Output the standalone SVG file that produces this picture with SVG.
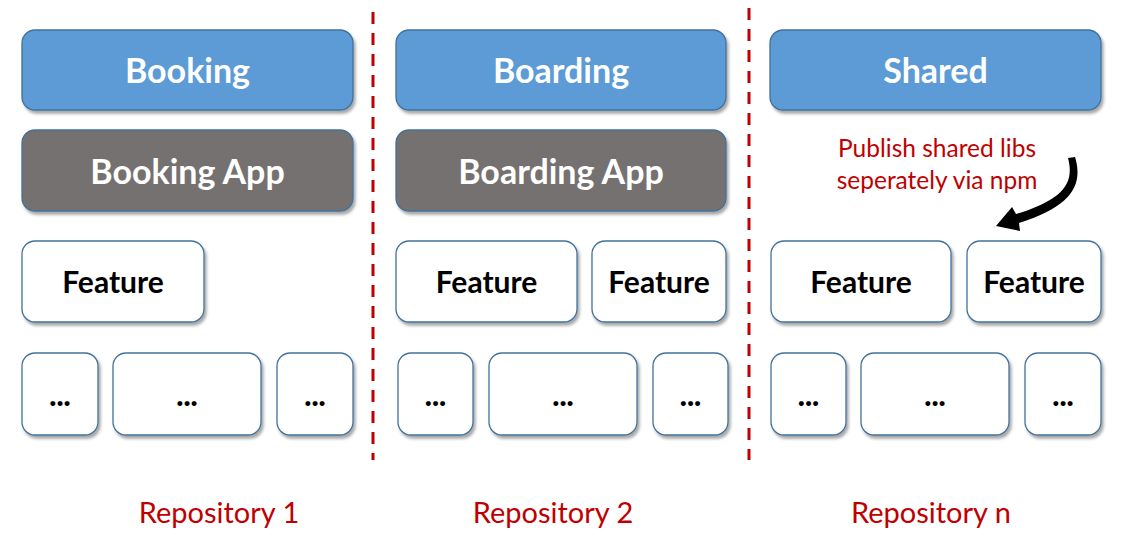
<svg xmlns="http://www.w3.org/2000/svg" width="1125" height="547" viewBox="0 0 1125 547">
<defs>
<filter id="sh" x="-10%" y="-10%" width="125%" height="130%">
<feDropShadow dx="2" dy="3" stdDeviation="1.5" flood-color="#000" flood-opacity="0.35"/>
</filter>
<style>
.blue{fill:#5B9BD5;stroke:#41719C;stroke-width:1.3;filter:url(#sh)}
.gray{fill:#767171;stroke:#41719C;stroke-width:1.3;filter:url(#sh)}
.white{fill:#fff;stroke:#41719C;stroke-width:1.3;filter:url(#sh)}
.t{font-family:Lato,"Open Sans","Liberation Sans",sans-serif;font-weight:bold;text-anchor:middle}
.tw{fill:#fff;font-size:34px}
.tb{fill:#000;font-size:30px}
.dots{fill:#000;font-size:30px;font-weight:900}
.red{font-family:Lato,"Open Sans","Liberation Sans",sans-serif;fill:#C00000;text-anchor:middle}
.div{stroke:#C00000;stroke-width:3;stroke-dasharray:12 9}
</style>
</defs>
<g id="dividers">
<line class="div" x1="373" y1="12" x2="373" y2="460"/>
<line class="div" x1="749" y1="8" x2="749" y2="460"/>
</g>
<g id="repo1">
<g id="booking"><rect class="blue" x="22" y="30" width="331" height="80" rx="13"/><text class="t tw" x="187.5" y="83">Booking</text></g>
<g id="booking-app"><rect class="gray" x="22" y="130" width="331" height="81" rx="13"/><text class="t tw" x="187.5" y="184">Booking App</text></g>
<g id="feature1"><rect class="white" x="22" y="241" width="182" height="81" rx="13"/><text class="t tb" x="113" y="293">Feature</text></g>
<g id="dots1a"><rect class="white" x="22" y="353" width="76" height="82" rx="13"/><text class="t dots" x="60" y="406">...</text></g>
<g id="dots1b"><rect class="white" x="113" y="353" width="148" height="82" rx="13"/><text class="t dots" x="187" y="406">...</text></g>
<g id="dots1c"><rect class="white" x="277" y="353" width="76" height="82" rx="13"/><text class="t dots" x="315" y="406">...</text></g>
</g>
<g id="repo2">
<g id="boarding"><rect class="blue" x="396" y="30" width="330" height="80" rx="13"/><text class="t tw" x="561" y="83">Boarding</text></g>
<g id="boarding-app"><rect class="gray" x="396" y="130" width="330" height="81" rx="13"/><text class="t tw" x="561" y="184">Boarding App</text></g>
<g id="feature2a"><rect class="white" x="396" y="241" width="181" height="81" rx="13"/><text class="t tb" x="486.5" y="293">Feature</text></g>
<g id="feature2b"><rect class="white" x="592" y="241" width="134" height="81" rx="13"/><text class="t tb" x="659" y="293">Feature</text></g>
<g id="dots2a"><rect class="white" x="398" y="353" width="75" height="82" rx="13"/><text class="t dots" x="435.5" y="406">...</text></g>
<g id="dots2b"><rect class="white" x="489" y="353" width="148" height="82" rx="13"/><text class="t dots" x="563" y="406">...</text></g>
<g id="dots2c"><rect class="white" x="653" y="353" width="75" height="82" rx="13"/><text class="t dots" x="690.5" y="406">...</text></g>
</g>
<g id="repon">
<g id="shared"><rect class="blue" x="770" y="30" width="331" height="80" rx="13"/><text class="t tw" x="935.5" y="83">Shared</text></g>
<g id="feature3a"><rect class="white" x="771" y="241" width="180" height="81" rx="13"/><text class="t tb" x="861" y="293">Feature</text></g>
<g id="feature3b"><rect class="white" x="967" y="241" width="134" height="81" rx="13"/><text class="t tb" x="1034" y="293">Feature</text></g>
<g id="dots3a"><rect class="white" x="771" y="353" width="75" height="82" rx="13"/><text class="t dots" x="808.5" y="406">...</text></g>
<g id="dots3b"><rect class="white" x="861" y="353" width="148" height="82" rx="13"/><text class="t dots" x="935" y="406">...</text></g>
<g id="dots3c"><rect class="white" x="1025" y="353" width="76" height="82" rx="13"/><text class="t dots" x="1063" y="406">...</text></g>
</g>
<g id="note">
<text class="red" font-size="24.5" x="937" y="157">Publish shared libs</text>
<text class="red" font-size="24.5" x="937" y="189">seperately via npm</text>
</g>
<g id="connectors">
<path d="M1068 158 C1075 184 1062 200 1016 214 L1012 207 L996 226 L1020 231 L1019 223 C1070 207 1084 186 1075 157 Z" fill="#000"/>
</g>
<g id="labels">
<text class="red" font-size="29" x="219" y="523">Repository 1</text>
<text class="red" font-size="29" x="553" y="523">Repository 2</text>
<text class="red" font-size="29" x="931" y="523">Repository n</text>
</g>
</svg>
